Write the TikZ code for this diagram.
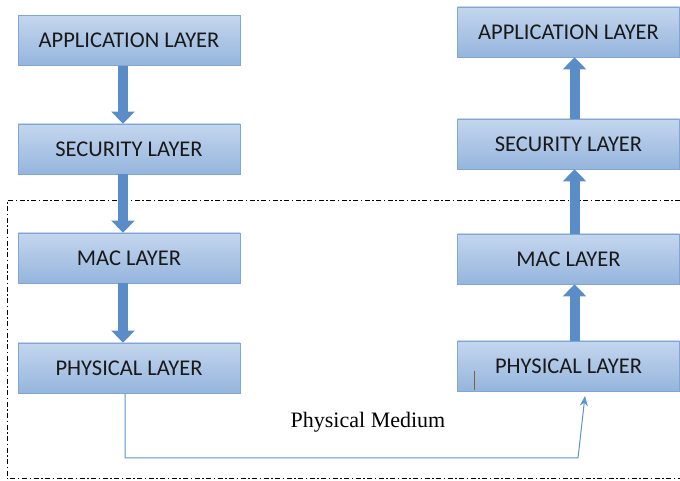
\documentclass[tikz,border=0pt]{standalone}
\usepackage{fontspec}
\setmainfont{Carlito}
\newfontfamily\mediumfont{Liberation Serif}
\usetikzlibrary{arrows.meta,calc}
\newcommand{\BoxW}{222pt}
\newcommand{\BoxH}{50pt}
\newcommand{\XLeft}{129}
\newcommand{\XRight}{568.5}
\definecolor{boxTop}{HTML}{C4D6EE}
\definecolor{boxBottom}{HTML}{95B5DD}
\definecolor{boxStroke}{HTML}{82A6D4}
\definecolor{flowFill}{HTML}{5A8DC8}
\definecolor{wireColor}{HTML}{5C94D2}
\definecolor{tickColor}{HTML}{7A6240}

\begin{document}
\begin{tikzpicture}[
  x=1pt, y=1pt,
  layerbox/.style = {rectangle, draw=boxStroke, line width=0.8pt,
                     top color=boxTop, bottom color=boxBottom,
                     minimum width=\BoxW, minimum height=\BoxH, inner sep=0pt,
                     font=\fontsize{22.5}{26}\selectfont, text=black!90},
  flowarr/.style  = {draw=flowFill, line width=10pt,
                     -{Triangle[width=23pt,length=12pt]}},
  mediumwire/.style = {draw=wireColor, line width=1pt,
                     -{Stealth[length=10pt,width=8pt]}},
  framebox/.style = {line width=1pt, dash pattern=on 5pt off 2.5pt on 1.5pt off 2.5pt},
]
\useasboundingbox (0,0) rectangle (680,481);

% ----------------------------------------------------------------
% Frame round the lower layers
% ----------------------------------------------------------------
\draw[framebox] (680,280) -- (7,280) -- (7,2) -- (680,2);

% ----------------------------------------------------------------
% Sender stack (left) and receiver stack (right)
% ----------------------------------------------------------------
\node[layerbox] (Lapp) at (\XLeft, 440.5) {APPLICATION LAYER};
\node[layerbox] (Lsec) at (\XLeft, 332)   {SECURITY LAYER};
\node[layerbox] (Lmac) at (\XLeft, 223)   {MAC LAYER};
\node[layerbox] (Lphy) at (\XLeft, 113)   {PHYSICAL LAYER};

\node[layerbox] (Rapp) at (\XRight, 449)  {APPLICATION LAYER};
\node[layerbox] (Rsec) at (\XRight, 337)  {SECURITY LAYER};
\node[layerbox] (Rmac) at (\XRight, 222)  {MAC LAYER};
\node[layerbox] (Rphy) at (\XRight, 115)  {PHYSICAL LAYER};

% ----------------------------------------------------------------
% Flow arrows
% ----------------------------------------------------------------
\foreach \a/\b in {Lapp/Lsec, Lsec/Lmac, Lmac/Lphy}{
  \draw[flowarr] ([xshift=-6pt]\a.south) -- ([xshift=-6pt]\b.north);
}
\foreach \a/\b in {Rphy/Rmac, Rmac/Rsec, Rsec/Rapp}{
  \draw[flowarr] ([xshift=6pt]\a.north) -- ([xshift=6pt]\b.south);
}

% ----------------------------------------------------------------
% Physical medium
% ----------------------------------------------------------------
\coordinate (bendR) at (578,23);
\coordinate (mediumEnd) at (585,85);
\draw[mediumwire] ([xshift=-4pt]Lphy.south) |- (bendR) -- (mediumEnd);

\node[font=\mediumfont\fontsize{22}{26}\selectfont] (medium) at (368,59)
  {Physical Medium};

% small mark inside the receiver's physical layer
\draw[tickColor, line width=1pt] (474,110) -- (474,91);

\end{tikzpicture}
\end{document}
